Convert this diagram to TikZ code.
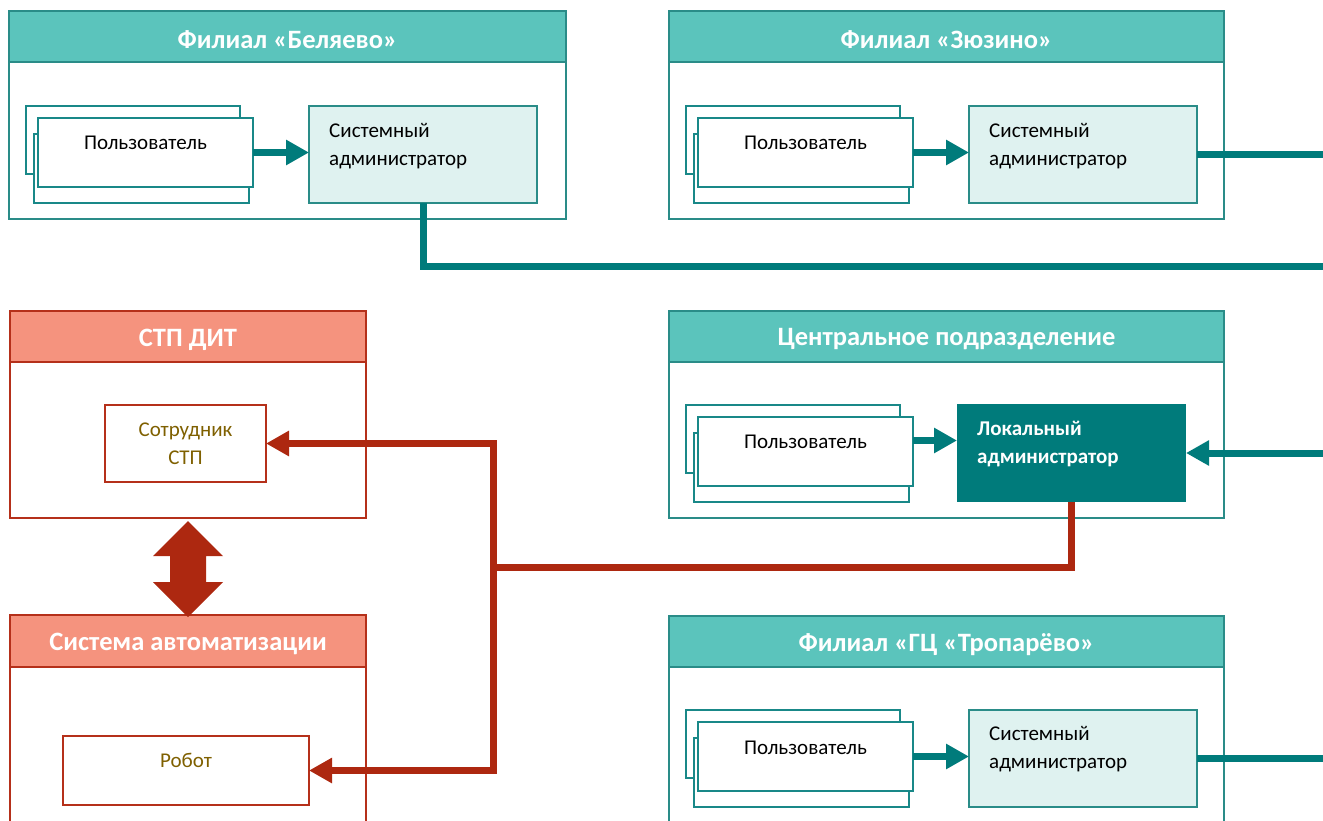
\documentclass[tikz,border=0pt]{standalone}
\usepackage{fontspec}
\setmainfont{Carlito}
\usetikzlibrary{arrows.meta,fit,calc}
\definecolor{tealH}{HTML}{5BC4BC}
\definecolor{tealB}{HTML}{2A8C88}
\definecolor{tealL}{HTML}{007B7B}
\definecolor{tealF}{HTML}{DFF2F0}
\definecolor{redL}{HTML}{AD2810}
\definecolor{redH}{HTML}{F5937E}
\definecolor{redB}{HTML}{B5301A}
\definecolor{olive}{HTML}{7F6000}
\tikzset{
  rect/.style={inner sep=0pt, outer sep=0pt},
  frameT/.style={rect, draw=tealB, line width=1.6pt, fill=white},
  headT/.style={rect, draw=tealB, line width=1.6pt, fill=tealH},
  frameR/.style={rect, draw=redB, line width=1.6pt, fill=white},
  headR/.style={rect, draw=redB, line width=1.6pt, fill=redH},
  title/.style={text=white, yshift=-3pt, font=\bfseries\fontsize{26.5}{30}\selectfont},
  ubox/.style={rect, draw=tealL!90!white, line width=1.4pt, fill=white},
  sabox/.style={rect, draw=tealB, line width=1.4pt, fill=tealF},
  labox/.style={rect, fill=tealL},
  rbox/.style={rect, draw=redB, line width=1.4pt, fill=white},
  body/.style={font=\fontsize{21}{28}\selectfont, text=black},
  bodyL/.style={body, align=left, anchor=west, inner sep=0pt},
  tline/.style={draw=tealL, line width=7pt},
  tarrow/.style={tline, -{Triangle[length=23pt,width=24pt]}},
  rline/.style={draw=redL, line width=7pt},
}
\begin{document}
\begin{tikzpicture}[x=1pt,y=-1pt]
\useasboundingbox (0,0) rectangle (1323,821);
\clip (0,0) rectangle (1323,821);

% ---------- Belyaevo ----------
\node[frameT, fit={(9,11) (566,219)}] (f1) {};
\node[headT, fit={(9,11) (566,62)}] (h1) {};
\node[title] (t1) at (h1.center) {Филиал «Беляево»};
\node[ubox, fit={(26,106) (240,174)}] (u1a) {};
\node[ubox, fit={(34,134) (249,203)}] (u1b) {};
\node[ubox, fit={(38,118) (253,187)}] (u1) {};
\node[body] (u1t) at (145.5,143) {Пользователь};
\node[sabox, fit={(309,106) (537,203)}] (sa1) {};
\node[bodyL] (sa1t) at (329,146) {Системный\\администратор};

% ---------- Zyuzino ----------
\node[frameT, fit={(669,11) (1224,219)}] (f2) {};
\node[headT, fit={(669,11) (1224,62)}] (h2) {};
\node[title] (t2) at (h2.center) {Филиал «Зюзино»};
\node[ubox, fit={(686,106) (900,174)}] (u2a) {};
\node[ubox, fit={(694,134) (909,203)}] (u2b) {};
\node[ubox, fit={(698,118) (913,187)}] (u2) {};
\node[body] (u2t) at (805.5,143) {Пользователь};
\node[sabox, fit={(969,106) (1197,203)}] (sa2) {};
\node[bodyL] (sa2t) at (989,146) {Системный\\администратор};

% ---------- Central ----------
\node[frameT, fit={(669,311) (1224,518)}] (f3) {};
\node[headT, fit={(669,311) (1224,362)}] (h3) {};
\node[title] (t3) at (h3.center) {Центральное подразделение};
\node[ubox, fit={(686,405) (900,473)}] (u3a) {};
\node[ubox, fit={(694,433) (909,502)}] (u3b) {};
\node[ubox, fit={(698,417) (913,486)}] (u3) {};
\node[body] (u3t) at (805.5,442) {Пользователь};
\node[labox, fit={(957,404) (1186,502)}] (la) {};
\node[bodyL, text=white, font=\bfseries\fontsize{21}{28}\selectfont] (lat) at (977,444) {Локальный\\администратор};

% ---------- Troparevo ----------
\node[frameT, fit={(669,616) (1224,880)}] (f4) {};
\node[headT, fit={(669,616) (1224,667)}] (h4) {};
\node[title] (t4) at (h4.center) {Филиал «ГЦ «Тропарёво»};
\node[ubox, fit={(686,710) (900,778)}] (u4a) {};
\node[ubox, fit={(694,738) (909,807)}] (u4b) {};
\node[ubox, fit={(698,722) (913,791)}] (u4) {};
\node[body] (u4t) at (805.5,748) {Пользователь};
\node[sabox, fit={(969,710) (1197,807)}] (sa4) {};
\node[bodyL] (sa4t) at (989,749) {Системный\\администратор};

% ---------- STP DIT ----------
\node[frameR, fit={(10,311) (366,518)}] (stp) {};
\node[headR, fit={(10,311) (366,362)}] (hs) {};
\node[title] (ts) at (hs.center) {СТП ДИТ};
\node[rbox, fit={(105,405) (266,482)}] (sotr) {};
\node[body, text=olive, align=center] (sotrt) at (185.5,444) {Сотрудник\\СТП};

% ---------- Automation system ----------
\node[frameR, fit={(10,615) (366,880)}] (sys) {};
\node[headR, fit={(10,615) (366,667)}] (hy) {};
\node[title] (ty) at (hy.center) {Система автоматизации};
\node[rbox, fit={(63,736) (309,805)}] (robot) {};
\node[body, text=olive] (robt) at (186,760) {Робот};

% ---------- teal connectors ----------
\coordinate (xr) at (1340,0);
\coordinate (e1) at (1340,267);
\coordinate (e3) at (1340,453);
\coordinate (u3o) at ([yshift=11pt]u3.east);
\draw[tarrow] (u1.east) -- (sa1.west |- u1.east);
\draw[tarrow] (u2.east) -- (sa2.west |- u2.east);
\draw[tarrow] (u3o) -- (la.west |- u3o);
\draw[tarrow] (u4.east) -- (sa4.west |- u4.east);
\draw[tline] (sa1.south) |- (e1);
\draw[tline] (sa2.east) -- (sa2.east -| xr);
\draw[tline] (sa4.east) -- (sa4.east -| xr);
\draw[tarrow] (e3) -- (la.east |- e3);

% ---------- red connectors ----------
\coordinate (j) at (493,567);
\draw[rline] (la.south) |- (j);
\draw[rline, {Triangle[length=23pt,width=24pt]}-{Triangle[length=23pt,width=24pt]}] (sotr.east) -| (j) |- (robot.east);

% double arrow between STP and automation system
\coordinate (da) at ($(stp.south)+(0,3)$);
\fill[redL] (da) -- ++(35,35) -- ++(-17,0) -- ++(0,26) -- ++(17,0) -- ++(-35,35)
  -- ++(-35,-35) -- ++(17,0) -- ++(0,-26) -- ++(-17,0) -- cycle;
\end{tikzpicture}
\end{document}
